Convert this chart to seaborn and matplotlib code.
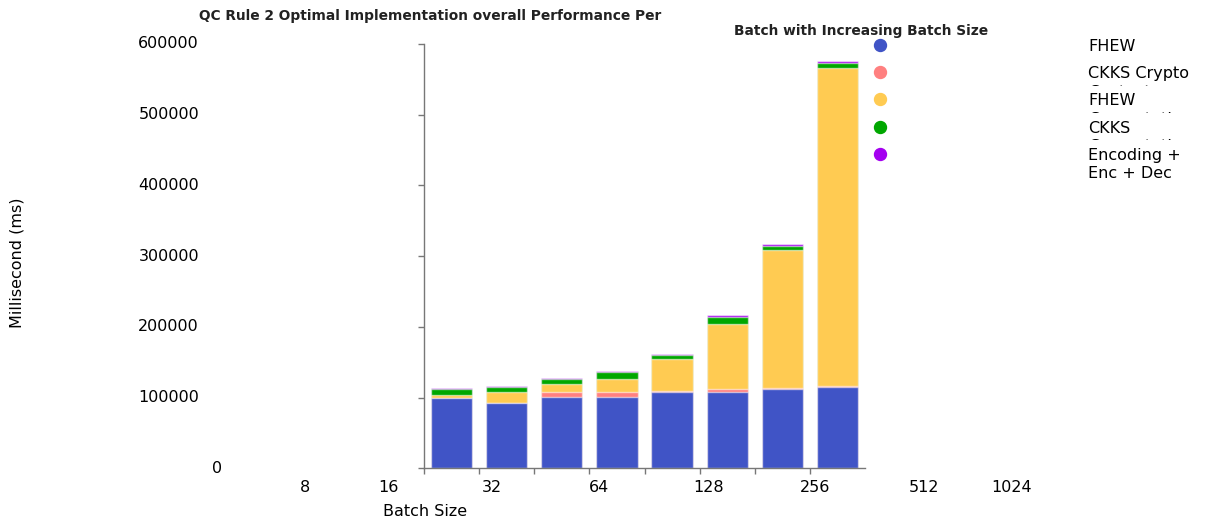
import matplotlib
matplotlib.use('Agg')
import matplotlib.pyplot as plt
import seaborn as sns
import pandas as pd
import numpy as np
from matplotlib.lines import Line2D
from matplotlib.transforms import Bbox

# data
batch_sizes = ['8', '16', '32', '64', '128', '256', '512', '1024']
fhew = [99000, 92000, 101300, 101300, 108400, 108400, 112200, 115500]
ckks_crypto = [800, 800, 6700, 6700, 600, 3800, 800, 800]
fhew_comp = [4300, 15600, 10800, 17900, 45200, 92000, 195500, 449700]
ckks_comp = [7700, 7100, 7600, 10400, 6600, 10300, 6500, 7100]
encoding = [1400, 1400, 1400, 1400, 1400, 2000, 2400, 2300]

series = ['FHEW', 'CKKS Crypto\nContext', 'FHEW\nComputation', 'CKKS\nComputation', 'Encoding +\nEnc + Dec']
colors = ['#4054c6', '#ff8080', '#ffcb52', '#00a700', '#a400f0']
y_ticks = [0, 100000, 200000, 300000, 400000, 500000, 600000]
x_tick_labels = ['8', '16', '32', '64', '128', '256', '512', '1024']
x_label_pos = [-2.66, -1.15, 0.73, 2.67, 4.67, 6.59, 8.57, 10.15]

df = pd.DataFrame({'batch': batch_sizes, 's0': fhew, 's1': ckks_crypto,
                   's2': fhew_comp, 's3': ckks_comp, 's4': encoding})
cols = ['s0', 's1', 's2', 's3', 's4']
cum = df[cols].cumsum(axis=1)
cum['batch'] = df['batch']

sns.set_style('white')
plt.rcParams['font.family'] = ['DejaVu Sans']
plt.rcParams['text.color'] = 'black'

W, H = 1205, 520
fig = plt.figure(figsize=(W / 100, H / 100), dpi=100)
ax = fig.add_axes([424 / W, 1 - 468.3 / H, 441 / W, 424.3 / H])

# stacked bars: draw the cumulative totals from the top layer down
for i in reversed(range(5)):
    sns.barplot(data=cum, x='batch', y=cols[i], order=batch_sizes, color=colors[i],
                saturation=1, width=0.75, edgecolor=(1, 1, 1, 0.55), linewidth=1, ax=ax)

ax.set_xlim(-0.5, 7.5)
ax.set_ylim(0, 600000)
ax.set_xticks(np.arange(-0.5, 7, 1))
ax.set_xticklabels([])
ax.set_yticks(y_ticks)
ax.set_yticklabels([])
ax.set_xlabel('')
ax.set_ylabel('')
sns.despine(ax=ax)
for s in ['left', 'bottom']:
    ax.spines[s].set_color('#777777')
    ax.spines[s].set_linewidth(1)
ax.tick_params(axis='both', length=4, width=1, color='#777777', bottom=True, left=True)

# tick labels, placed where the reference has them
for v in y_ticks:
    ax.text(-0.51 if v else -0.458, v, str(v), transform=ax.get_yaxis_transform(),
            ha='right', va='center', fontsize=11.5, color='black')
for lab, p in zip(x_tick_labels, x_label_pos):
    ax.text(p, -0.045, lab, transform=ax.get_xaxis_transform(),
            ha='center', va='center', fontsize=11.5, color='black')

fig.text(17 / W, 1 - 263 / H, 'Millisecond (ms)', rotation=90, ha='center', va='center',
         fontsize=11.5, color='black')
fig.text(425 / W, 1 - 511 / H, 'Batch Size', ha='center', va='center', fontsize=11.5, color='black')

fig.text(430 / W, 1 - 16 / H, 'QC Rule 2 Optimal Implementation overall Performance Per',
         ha='center', va='center', fontsize=9.9, fontweight='bold', color='#222222')
fig.text(861 / W, 1 - 31.5 / H, 'Batch with Increasing Batch Size',
         ha='center', va='center', fontsize=9.9, fontweight='bold', color='#222222')

# legend: dots on the left, labels far right, each label clipped to its row
leg_y = [45, 72.3, 99.3, 126.7, 153.7]
for i, (name, c) in enumerate(zip(series, colors)):
    y = leg_y[i]
    fig.add_artist(Line2D([880 / W], [1 - y / H], marker='o', markersize=8.6, linestyle='',
                          color=c, transform=fig.transFigure))
    t = fig.text(1088 / W, 1 - (y - 6) / H, name, ha='left', va='top', fontsize=11.5,
                 linespacing=1.27, color='black')
    if i < len(series) - 1:
        box = Bbox.from_extents(1080, H - (y + 13.5), W, H - (y - 14))
        t.set_clip_box(box)
        t.set_clip_on(True)

fig.savefig('out.png', dpi=100)
